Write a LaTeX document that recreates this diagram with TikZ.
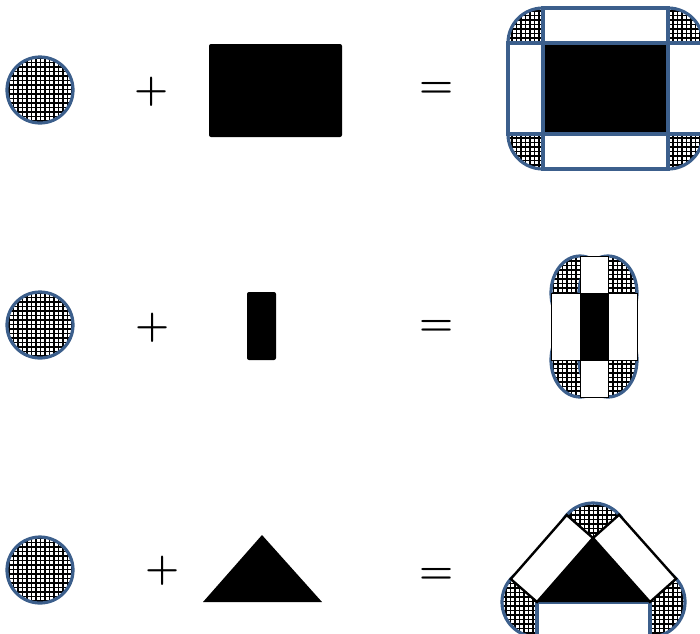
\documentclass[tikz,border=0pt]{standalone}
\usetikzlibrary{calc}
\definecolor{edgeblue}{RGB}{60,95,140}
\tikzset{
  hatch/.style={fill=white, path picture={
      \foreach \k in {-16,...,16} {
        \draw[line width=1.1pt, black, shift={(path picture bounding box.center)}]
          (\k*4.5pt+0.5pt,-70pt) -- (\k*4.5pt+0.5pt,70pt)
          (-70pt,\k*4.5pt+0.5pt) -- (70pt,\k*4.5pt+0.5pt);
      }}},
  disc/.style={hatch, draw=edgeblue, line width=3.2pt},
  bluebox/.style={fill=white, draw=edgeblue, line width=3.2pt},
  thinbox/.style={fill=white, draw=black, line width=0.8pt},
  blackbox/.style={fill=white, draw=black, line width=2.4pt},
  op/.style={font=\fontsize{39}{39}\selectfont\bfseries, inner sep=0pt, anchor=base},
}
\begin{document}
\begin{tikzpicture}[x=1pt,y=-1pt]
\useasboundingbox (0,0) rectangle (700,633);

% ---------- Row 1 ----------
\draw[disc] (40,90) circle[radius=33];
\node[op] (p1) at (152,101) {+};
\fill[black, rounded corners=2pt] (209,44) rectangle (342,137);
\node[op] (e1) at (437,97) {=};

\foreach \cx/\cy in {543/43,668/43,543/134,668/134}
  \draw[disc] (\cx,\cy) circle[radius=35];
\draw[bluebox] (543,8) rectangle (668,43);
\draw[bluebox] (543,134) rectangle (668,169);
\draw[bluebox] (508,43) rectangle (543,134);
\draw[bluebox] (668,43) rectangle (703,134);
\filldraw[fill=black, draw=edgeblue, line width=3.2pt] (543,43) rectangle (668,134);

% ---------- Row 2 ----------
\draw[disc] (40,325) circle[radius=33];
\node[op] (p2) at (153,337) {+};
\fill[black, rounded corners=2pt] (247,292) rectangle (276,360);
\node[op] (e2) at (437,335) {=};

\foreach \cx/\cy in {580/293,608/293,580/360,608/360}
  \draw[disc] (\cx,\cy) ellipse[x radius=29, y radius=37];
\draw[thinbox] (580,256) rectangle (608,293);
\draw[thinbox] (580,360) rectangle (608,397);
\draw[thinbox] (551,293) rectangle (580,360);
\draw[thinbox] (608,293) rectangle (637,360);
\fill[black, rounded corners=1.5pt] (580,293) rectangle (608,360);

% ---------- Row 3 ----------
\draw[disc] (40,570) circle[radius=33];
\node[op] (p3) at (163,580) {+};
\fill[black] (262,535) -- (203,602) -- (322,602) -- cycle;
\node[op] (e3) at (437,583) {=};

\coordinate (A) at (593,538);
\coordinate (B) at (537,602);
\coordinate (C) at (650,602);
\foreach \p in {A,B,C}
  \draw[disc] (\p) circle[radius=35];
\draw[bluebox] (537,602) rectangle (650,640);
\draw[blackbox] (B) -- (A) -- (566.7,515) -- (510.7,579) -- cycle;
\draw[blackbox] (A) -- (C) -- (676.1,578.7) -- (619.1,514.7) -- cycle;
\fill[black] (A) -- (B) -- (C) -- cycle;
\end{tikzpicture}
\end{document}
